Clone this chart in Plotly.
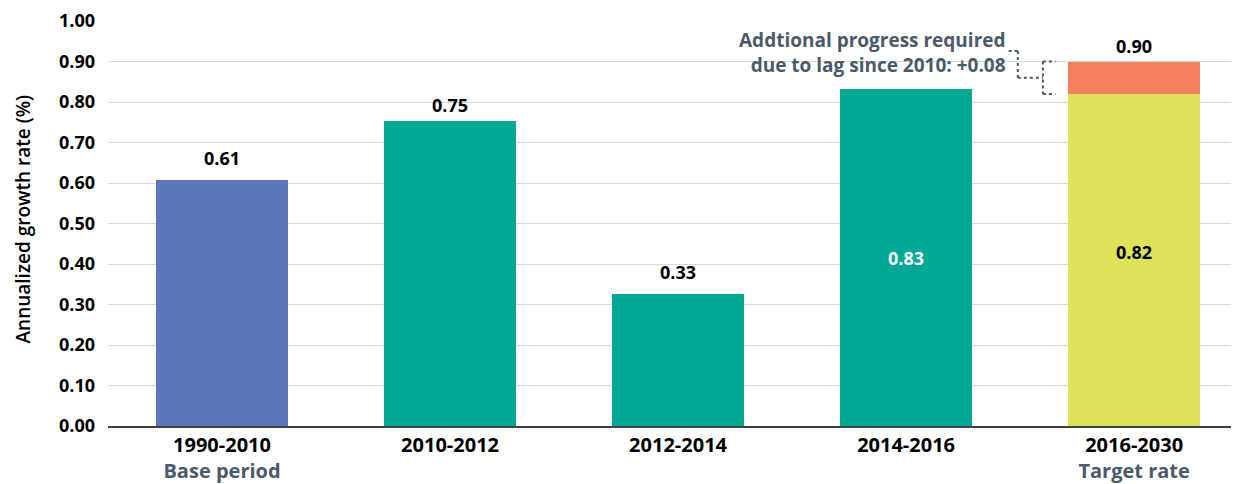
import plotly.graph_objects as go

# ---- data ----
periods = ["1990-2010", "2010-2012", "2012-2014", "2014-2016", "2016-2030"]
subtitles = ["Base period", "", "", "", "Target rate"]
base_values = [0.607, 0.752, 0.327, 0.832, 0.82]
extra_values = [0, 0, 0, 0, 0.08]
base_labels = ["0.61", "0.75", "0.33", "0.83", "0.82"]
total_label = "0.90"
note_text = "Addtional progress required<br>due to lag since 2010: +0.08"
y_title = "Annualized growth rate (%)"

# ---- styles ----
FONT = "Open Sans"
FS = 18
bar_colors = ["#5b77bb", "#00a896", "#00a896", "#00a896", "#dce25a"]
extra_color = "#f47f61"
note_color = "#4b5a69"
BW = 0.58
label_shift = [8, 2, 8, 0, 0]

ticktext = []
for p, s in zip(periods, subtitles):
    t = f"<b>{p}</b>"
    if s:
        t += f"<br><b><span style='color:{note_color}'>{s}</span></b>"
    ticktext.append(t)

xs = list(range(len(periods)))

fig = go.Figure()
fig.add_trace(go.Bar(x=xs, y=base_values, marker_color=bar_colors, width=BW,
                     marker_line_width=0, hoverinfo="skip"))
fig.add_trace(go.Bar(x=xs, y=extra_values, marker_color=extra_color, width=BW,
                     marker_line_width=0, hoverinfo="skip"))

annotations = []
for i, (v, e, lab) in enumerate(zip(base_values, extra_values, base_labels)):
    if i == 3:
        annotations.append(dict(x=i, y=v / 2, text=f"<b>{lab}</b>", showarrow=False,
                                font=dict(family=FONT, size=FS, color="white")))
    elif i == 4:
        annotations.append(dict(x=i, y=v / 2, text=f"<b>{lab}</b>", showarrow=False, yshift=8,
                                font=dict(family=FONT, size=FS, color="black")))
        annotations.append(dict(x=i, y=v + e, text=f"<b>{total_label}</b>", showarrow=False,
                                yanchor="bottom", yshift=2,
                                font=dict(family=FONT, size=FS, color="black")))
    else:
        annotations.append(dict(x=i, y=v, text=f"<b>{lab}</b>", showarrow=False,
                                yanchor="bottom", yshift=label_shift[i],
                                font=dict(family=FONT, size=FS, color="black")))

# note text
last = len(periods) - 1
top = base_values[last] + extra_values[last]
bot = base_values[last]
mid = (top + bot) / 2
annotations.append(dict(x=last - 0.553, y=0.922, xanchor="right", yanchor="middle",
                        text=f"<b>{note_text}</b>", showarrow=False, align="right",
                        font=dict(family=FONT, size=19, color=note_color)))

# y axis title as rotated annotation
annotations.append(dict(xref="paper", yref="paper", x=0, y=0.5, xshift=-86, yshift=4,
                        text=y_title, textangle=-90, showarrow=False,
                        xanchor="center", yanchor="middle",
                        font=dict(family=FONT, size=19, color="black", weight=600)))

dot = dict(color=note_color, width=2, dash="dot")
bx = last - 0.40
shapes = [
    dict(type="line", xref="x", yref="y", x0=last - 0.55, x1=last - 0.51, y0=0.926, y1=0.926, line=dot),
    dict(type="line", xref="x", yref="y", x0=last - 0.51, x1=last - 0.51, y0=0.926, y1=mid, line=dot),
    dict(type="line", xref="x", yref="y", x0=last - 0.51, x1=bx, y0=mid, y1=mid, line=dot),
    dict(type="line", xref="x", yref="y", x0=bx, x1=bx, y0=top, y1=bot, line=dot),
    dict(type="line", xref="x", yref="y", x0=bx, x1=last - 0.345, y0=top, y1=top, line=dot),
    dict(type="line", xref="x", yref="y", x0=bx, x1=last - 0.345, y0=bot, y1=bot, line=dot),
]

# page body has an 8px margin, so the figure is 8px smaller and margins shifted
fig.update_layout(
    width=1231, height=476,
    margin=dict(l=100, r=0, t=11, b=57),
    barmode="stack",
    showlegend=False,
    plot_bgcolor="white", paper_bgcolor="white",
    annotations=annotations,
    shapes=shapes,
    font=dict(family=FONT, color="black"),
)
fig.update_xaxes(
    tickmode="array", tickvals=xs, ticktext=ticktext,
    range=[-0.5, 4.46], showgrid=False, zeroline=False,
    showline=True, linecolor="#404040", linewidth=2,
    ticks="", tickfont=dict(family=FONT, size=20, color="black"),
)
fig.update_yaxes(
    range=[0, 1.0], dtick=0.1, tickformat=".2f",
    showgrid=True, gridcolor="#d9d9d9", gridwidth=1,
    zeroline=False, showline=False,
    ticklabelstandoff=12, ticklabeloverflow="allow",
    tickprefix="<b>", ticksuffix="</b>",
    tickfont=dict(family=FONT, size=FS, color="black"),
)

fig.write_html("out.html")
